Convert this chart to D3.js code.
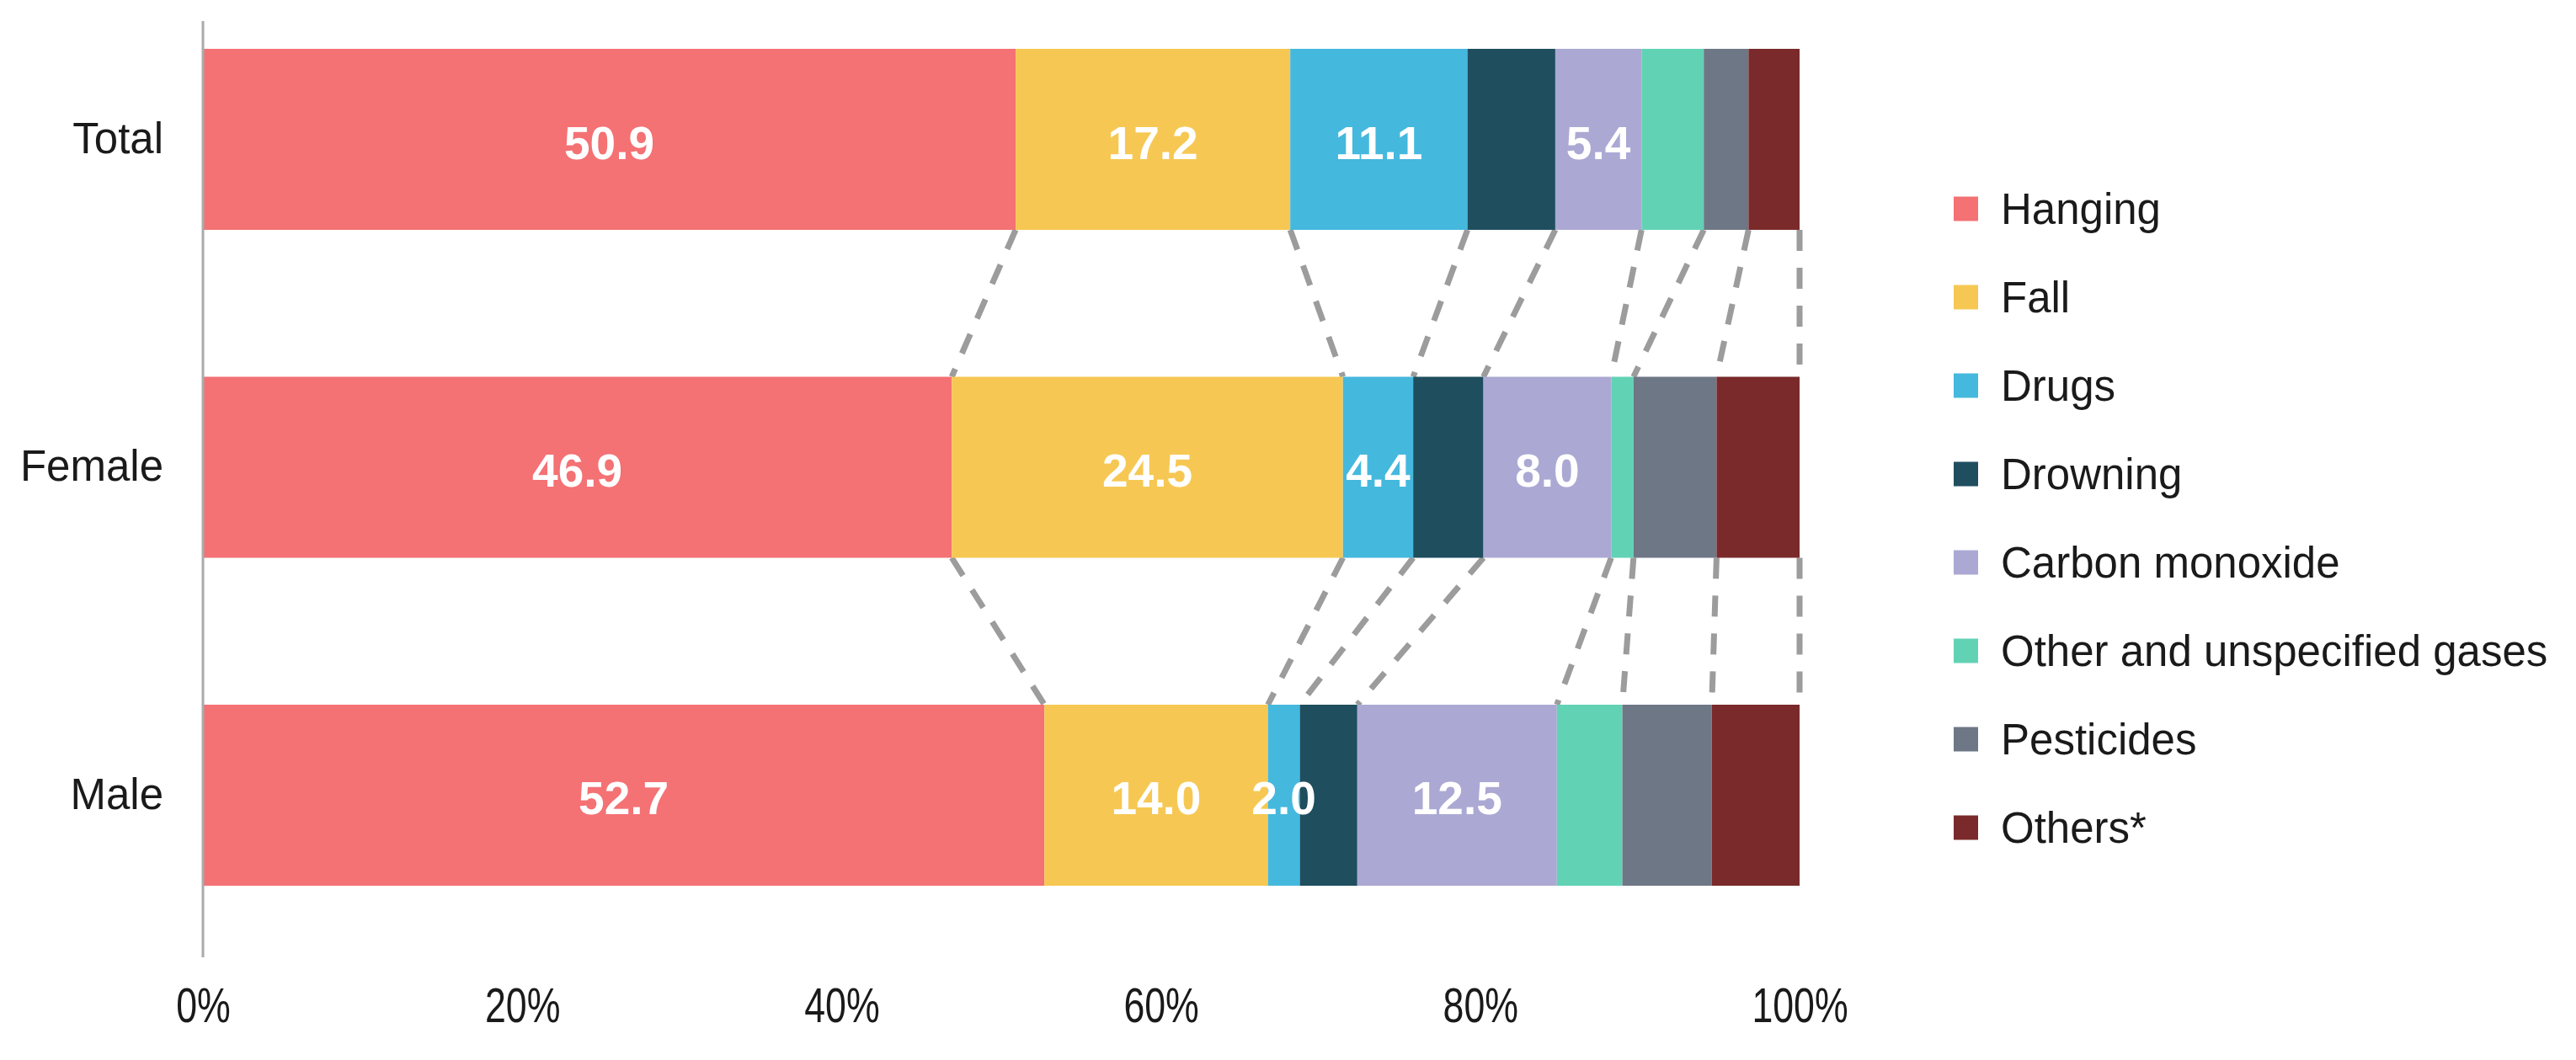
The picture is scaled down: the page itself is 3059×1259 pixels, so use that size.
<!DOCTYPE html>
<html>
<head>
<meta charset="utf-8">
<script src="https://cdn.jsdelivr.net/npm/d3@7"></script>
<style>
  body { margin: 0; background: #fff; }
  text { font-family: "Liberation Sans", Arial, sans-serif; }
</style>
</head>
<body>
<svg class="chart"></svg>
<script>
var groups = ["Total", "Female", "Male"];
var methods = ["Hanging", "Fall", "Drugs", "Drowning", "Carbon monoxide",
               "Other and unspecified gases", "Pesticides", "Others*"];
var colors = ["#f47174", "#f6c853", "#45b8de", "#1f4e5f", "#aba9d3",
              "#62d2b5", "#6e7785", "#7a2a2a"];

// share of suicides (%) by method, one array per group
var total  = [50.9, 17.2, 11.1, 5.5, 5.4, 3.9, 2.8, 3.2];
var female = [46.9, 24.5, 4.4, 4.4, 8.0, 1.4, 5.2, 5.2];
var male   = [52.7, 14.0, 2.0, 3.6, 12.5, 4.1, 5.6, 5.5];

// which values get a label inside the bar
var labelled = [true, true, true, false, true, false, false, false];
var xTicks = [0, 20, 40, 60, 80, 100];

var width = 3059,
    height = 1259;

var rows = [total, female, male].map(function(v, i) {
  var r = {group: groups[i]};
  methods.forEach(function(m, j) { r[m] = v[j]; });
  return r;
});

var series = d3.stack().keys(methods)(rows);

var x = d3.scaleLinear()
    .domain([0, 100])
    .range([241, 2137]);

var y = d3.scaleBand()
    .domain(groups)
    .range([58, 1052])
    .paddingInner(0.448)
    .paddingOuter(0);

var color = d3.scaleOrdinal()
    .domain(methods)
    .range(colors);

var chart = d3.select(".chart")
    .attr("width", width)
    .attr("height", height);

// dashed connectors between bars
var conn = chart.append("g");
for (var g = 0; g < groups.length - 1; g++) {
  series.forEach(function(s) {
    var a = s[g][1], b = s[g + 1][1];
    conn.append("line")
      .attr("x1", x(a))
      .attr("y1", y(groups[g]) + y.bandwidth())
      .attr("x2", x(b))
      .attr("y2", y(groups[g + 1]))
      .attr("stroke", "#9c9c9c")
      .attr("stroke-width", 7)
      .attr("stroke-dasharray", "25,20");
  });
}

var layer = chart.selectAll("g.layer")
    .data(series)
  .enter().append("g")
    .attr("class", "layer")
    .attr("fill", function(d) { return color(d.key); });

layer.selectAll("rect")
    .data(function(d) { return d; })
  .enter().append("rect")
    .attr("x", function(d) { return x(d[0]); })
    .attr("y", function(d) { return y(d.data.group); })
    .attr("width", function(d) { return x(d[1]) - x(d[0]); })
    .attr("height", y.bandwidth());

// value labels
series.forEach(function(s, j) {
  if (!labelled[j]) return;
  chart.append("g").selectAll("text")
      .data(s)
    .enter().append("text")
      .attr("x", function(d) { return x((d[0] + d[1]) / 2); })
      .attr("y", function(d) { return y(d.data.group) + y.bandwidth() / 2 + 4; })
      .attr("text-anchor", "middle")
      .attr("dominant-baseline", "central")
      .attr("fill", "#fff")
      .attr("font-weight", "bold")
      .attr("font-size", 55)
      .text(function(d) { return (d[1] - d[0]).toFixed(1); });
});

// vertical axis line
chart.append("line")
  .attr("x1", x(0)).attr("x2", x(0))
  .attr("y1", 25).attr("y2", 1137)
  .attr("stroke", "#aaaaaa")
  .attr("stroke-width", 3);

var y_axis = d3.axisLeft(y).tickSize(0).tickPadding(47);

chart.append("g")
  .attr("transform", "translate(" + x(0) + ",0)")
  .call(y_axis)
  .call(function(g) { g.select(".domain").remove(); })
  .selectAll("text")
    .attr("font-size", 51)
    .attr("fill", "#1a1a1a")
    .attr("font-family", "Liberation Sans, Arial, sans-serif");

var x_axis = d3.axisBottom(x)
  .tickValues(xTicks)
  .tickFormat(function(d) { return d + "%"; })
  .tickSize(0)
  .tickPadding(0);

chart.append("g")
  .attr("transform", "translate(0,1194)")
  .call(x_axis)
  .call(function(g) { g.select(".domain").remove(); })
  .selectAll("text")
    .attr("dy", "0.35em")
    .attr("y", 0)
    .attr("transform", "scale(0.77,1)")
    .attr("font-size", 58)
    .attr("fill", "#1a1a1a")
    .attr("font-family", "Liberation Sans, Arial, sans-serif");

// legend
var legend = chart.append("g")
  .selectAll("g")
  .data(methods)
  .enter().append("g")
    .attr("transform", function(d, i) { return "translate(2320," + (248 + i * 105) + ")"; });

legend.append("rect")
  .attr("y", -14.5)
  .attr("width", 29)
  .attr("height", 29)
  .attr("fill", function(d) { return color(d); });

legend.append("text")
  .attr("x", 56)
  .attr("dy", "0.35em")
  .attr("font-size", 51)
  .attr("fill", "#1a1a1a")
  .text(function(d) { return d; });
</script>
</body>
</html>
